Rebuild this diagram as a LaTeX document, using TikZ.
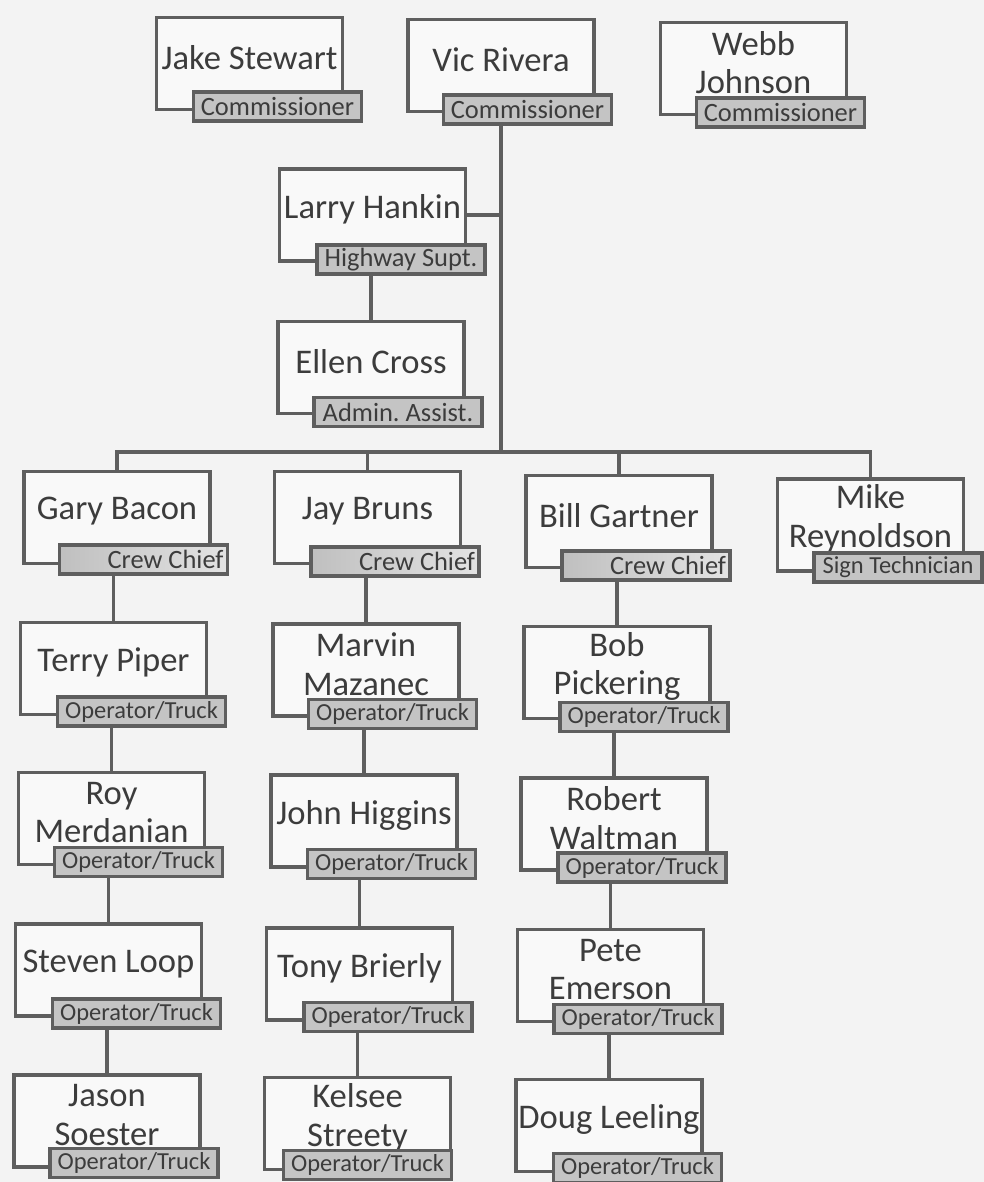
\documentclass[tikz,border=0pt]{standalone}
\usepackage{fontspec}
\setmainfont{Carlito}
\frenchspacing
\definecolor{edge}{HTML}{5E5E5E}
\definecolor{ink}{HTML}{3C3C3C}
\definecolor{rolefill}{HTML}{C4C4C4}
\definecolor{paper}{HTML}{F3F3F3}

\begin{document}
\begin{tikzpicture}[x=0.025cm,y=-0.025cm,
  card/.style={draw=edge,line width=2.5pt,fill=white!50!paper,minimum width=4.65cm,minimum height=2.3cm,inner sep=0pt},
  who/.style={text=ink,align=center,font=\fontsize{24.6}{27.5}\selectfont},
  role/.style={draw=edge,line width=2.5pt,fill=rolefill,text=ink,minimum width=4.2cm,minimum height=0.72cm,inner sep=0pt,font=\fontsize{18.8}{20}\selectfont},
  op/.style={role,font=\fontsize{17.4}{19}\selectfont},
  crew/.style={role,left color=gray!50,right color=gray!22,text width=4.0cm,align=flush right},
  link/.style={draw=edge,line width=2.5pt}]
\useasboundingbox (0,0) rectangle (984,1182);
\fill[paper] (0,0) rectangle (984,1182);

% boxes
\node[card] (jake) at (249.5,63.5) {};
\node[card] (vic) at (501,65.5) {};
\node[card] (webb) at (753.5,68.5) {};
\node[card] (larry) at (372.5,215) {};
\node[card] (ellen) at (371,367.5) {};
\node[card] (gary) at (117,517.5) {};
\node[card] (jay) at (367.5,517.5) {};
\node[card] (bill) at (619,521.5) {};
\node[card] (mike) at (870.5,525) {};
\node[card] (terry) at (113.5,668.5) {};
\node[card] (roy) at (111.5,818.5) {};
\node[card] (steven) at (108.5,970) {};
\node[card] (jason) at (107,1121) {};
\node[card] (marvin) at (366,670) {};
\node[card] (john) at (364,821) {};
\node[card] (tony) at (359.5,974) {};
\node[card] (kelsee) at (357.5,1123.5) {};
\node[card] (bob) at (617,672.5) {};
\node[card] (robert) at (614,824) {};
\node[card] (pete) at (610.5,975.5) {};
\node[card] (doug) at (609,1125.5) {};

% names
\node[who] (jakeN) at ([yshift=0.15cm]jake) {Jake Stewart};
\node[who] (vicN) at ([yshift=0.15cm]vic) {Vic Rivera};
\node[who] (webbN) at ([yshift=0.15cm]webb) {Webb\\Johnson};
\node[who] (larryN) at ([yshift=0.15cm]larry) {Larry Hankin};
\node[who] (ellenN) at ([yshift=0.15cm]ellen) {Ellen Cross};
\node[who] (garyN) at ([yshift=0.15cm]gary) {Gary Bacon};
\node[who] (jayN) at ([yshift=0.15cm]jay) {Jay Bruns};
\node[who] (billN) at ([yshift=0.15cm]bill) {Bill Gartner};
\node[who] (mikeN) at ([yshift=0.15cm]mike) {Mike\\Reynoldson};
\node[who] (terryN) at ([yshift=0.15cm]terry) {Terry Piper};
\node[who] (royN) at ([yshift=0.15cm]roy) {Roy\\Merdanian};
\node[who] (stevenN) at ([yshift=0.15cm]steven) {Steven Loop};
\node[who] (jasonN) at ([yshift=0.15cm]jason) {Jason\\Soester};
\node[who] (marvinN) at ([yshift=0.15cm]marvin) {Marvin\\Mazanec};
\node[who] (johnN) at ([yshift=0.15cm]john) {John Higgins};
\node[who] (tonyN) at ([yshift=0.15cm]tony) {Tony Brierly};
\node[who] (kelseeN) at ([yshift=0.15cm]kelsee) {Kelsee\\Streety};
\node[who] (bobN) at ([yshift=0.15cm]bob) {Bob\\Pickering};
\node[who] (robertN) at ([yshift=0.15cm]robert) {Robert\\Waltman};
\node[who] (peteN) at ([yshift=0.15cm]pete) {Pete\\Emerson};
\node[who] (dougN) at ([yshift=0.15cm]doug) {Doug Leeling};

% titles
\node[role] (jakeT) at (277.5,106.5) {Commissioner};
\node[role] (vicT) at (527.5,109.5) {Commissioner};
\node[role] (webbT) at (780.5,112.5) {Commissioner};
\node[role] (larryT) at (401,259.5) {Highway Supt.};
\node[role] (ellenT) at (398,412) {Admin. Assist.};
\node[crew] (garyT) at (143.5,559.5) {Crew Chief};
\node[crew] (jayT) at (395,561.5) {Crew Chief};
\node[crew] (billT) at (646,565.5) {Crew Chief};
\node[op] (mikeT) at (898,567.5) {Sign Technician};
\node[op] (terryT) at (141.5,711.5) {Operator/Truck};
\node[op] (royT) at (138.5,862) {Operator/Truck};
\node[op] (stevenT) at (136.5,1013.5) {Operator/Truck};
\node[op] (jasonT) at (134,1163) {Operator/Truck};
\node[op] (marvinT) at (392.5,714) {Operator/Truck};
\node[op] (johnT) at (391.5,864) {Operator/Truck};
\node[op] (tonyT) at (388,1017) {Operator/Truck};
\node[op] (kelseeT) at (367.5,1165) {Operator/Truck};
\node[op] (bobT) at (644,717) {Operator/Truck};
\node[op] (robertT) at (642,867.5) {Operator/Truck};
\node[op] (peteT) at (638,1019) {Operator/Truck};
\node[op] (dougT) at (637.5,1168) {Operator/Truck};

% connectors
\coordinate (hub) at (501,452);
\draw[link] (vic |- vicT.south) -- (hub);
\draw[link] (larry.east) -- (larry.east -| hub);
\draw[link] (gary.north) |- (hub) -| (mike.north);
\draw[link] (jay.north) -- (jay.north |- hub);
\draw[link] (bill.north) -- (bill.north |- hub);
\draw[link] (ellen.north) -- (ellen.north |- larryT.south);
\draw[link] (terry.north) -- (terry.north |- garyT.south);
\draw[link] (roy.north) -- (roy.north |- terryT.south);
\draw[link] (steven.north) -- (steven.north |- royT.south);
\draw[link] (jason.north) -- (jason.north |- stevenT.south);
\draw[link] (marvin.north) -- (marvin.north |- jayT.south);
\draw[link] (john.north) -- (john.north |- marvinT.south);
\draw[link] (tony.north) -- (tony.north |- johnT.south);
\draw[link] (kelsee.north) -- (kelsee.north |- tonyT.south);
\draw[link] (bob.north) -- (bob.north |- billT.south);
\draw[link] (robert.north) -- (robert.north |- bobT.south);
\draw[link] (pete.north) -- (pete.north |- robertT.south);
\draw[link] (doug.north) -- (doug.north |- peteT.south);
\end{tikzpicture}
\end{document}
